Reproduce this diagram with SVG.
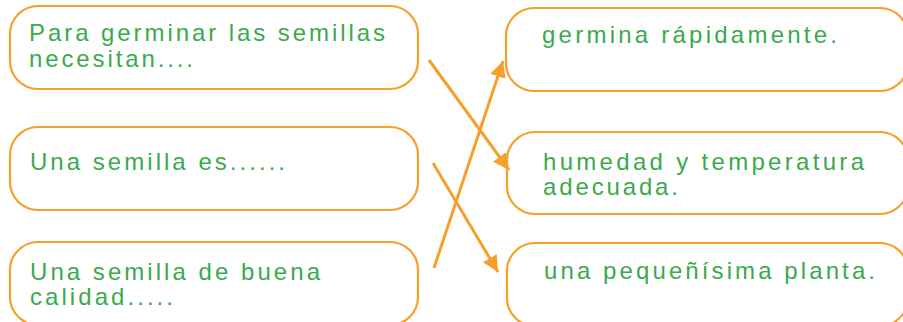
<svg xmlns="http://www.w3.org/2000/svg" width="903" height="322" viewBox="0 0 903 322">
<defs>
<style>
.box{fill:#fff;stroke:#F5A02A;stroke-width:2.2}
.t{font-family:"Liberation Sans",Arial,sans-serif;font-size:24px;fill:#3AAA4C}
.c{stroke:#F5A02A;stroke-width:3;fill:none}
</style>
<marker id="ah" viewBox="0 0 10 10" refX="10" refY="5" markerWidth="21" markerHeight="16" markerUnits="userSpaceOnUse" orient="auto">
<path d="M0,0 L10,5 L0,10 Z" fill="#F5A02A"/>
</marker>
</defs>
<rect width="903" height="322" fill="#fff"/>
<g id="l1"><rect class="box" x="10" y="6" width="408" height="83" rx="28"/>
<text class="t" x="29" y="41" textLength="356" lengthAdjust="spacing">Para germinar las semillas</text>
<text class="t" x="29" y="67" textLength="164" lengthAdjust="spacing">necesitan....</text></g>
<g id="l2"><rect class="box" x="10" y="127" width="408" height="83" rx="28"/>
<text class="t" x="30" y="170" textLength="255" lengthAdjust="spacing">Una semilla es......</text></g>
<g id="l3"><rect class="box" x="10" y="242" width="408" height="83" rx="28"/>
<text class="t" x="30" y="280" textLength="290" lengthAdjust="spacing">Una semilla de buena</text>
<text class="t" x="30" y="305" textLength="143" lengthAdjust="spacing">calidad.....</text></g>
<g id="r1"><rect class="box" x="506" y="8" width="402" height="83" rx="28"/>
<text class="t" x="542" y="43" textLength="295" lengthAdjust="spacing">germina rápidamente.</text></g>
<g id="r2"><rect class="box" x="507" y="132" width="401" height="82" rx="28"/>
<text class="t" x="543" y="170" textLength="321" lengthAdjust="spacing">humedad y temperatura</text>
<text class="t" x="543" y="195" textLength="135" lengthAdjust="spacing">adecuada.</text></g>
<g id="r3"><rect class="box" x="507" y="243" width="401" height="83" rx="28"/>
<text class="t" x="544" y="279" textLength="331" lengthAdjust="spacing">una pequeñísima planta.</text></g>
<g id="connectors">
<line class="c" x1="429" y1="60" x2="509" y2="170" marker-end="url(#ah)"/>
<line class="c" x1="434" y1="268" x2="503" y2="61" marker-end="url(#ah)"/>
<line class="c" x1="433" y1="163" x2="498" y2="272" marker-end="url(#ah)"/>
</g>
</svg>
